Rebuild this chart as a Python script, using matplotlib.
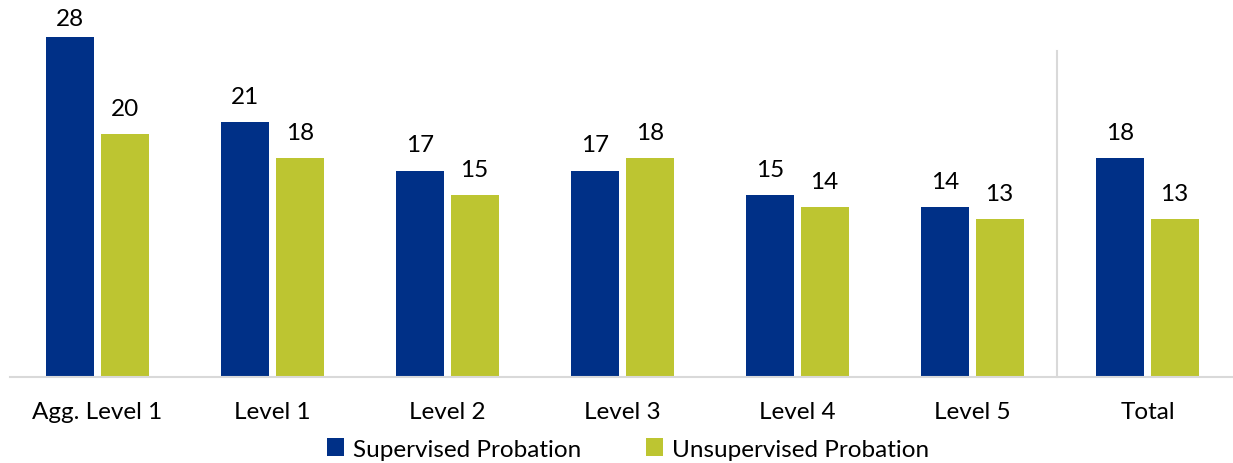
import matplotlib
matplotlib.use("Agg")
import matplotlib.pyplot as plt
import numpy as np

categories = ["Agg. Level 1", "Level 1", "Level 2", "Level 3", "Level 4", "Level 5", "Total"]
supervised = [28, 21, 17, 17, 15, 14, 18]
unsupervised = [20, 18, 15, 18, 14, 13, 13]
series_names = ["Supervised Probation", "Unsupervised Probation"]
colors = ["#003087", "#BDC531"]

plt.rcParams['font.family'] = ['Lato', 'DejaVu Sans']

W, H = 1233, 464
fig = plt.figure(figsize=(W/100, H/100), dpi=100)
ax = fig.add_axes([10/W, (H-378)/H, 1225/W, 378/H])

x = np.arange(len(categories))
bw = 0.275
off = 0.155
b1 = ax.bar(x - off, supervised, bw, color=colors[0], label=series_names[0])
b2 = ax.bar(x + off, unsupervised, bw, color=colors[1], label=series_names[1])

ax.set_xlim(-0.5, len(categories) - 0.5)
ax.set_ylim(0, 378/12.143)

fs = 17.5
for bars, vals in ((b1, supervised), (b2, unsupervised)):
    for rect, v in zip(bars, vals):
        # keep label inside figure top like the original
        top_px = ax.transData.transform((0, v))[1]  # from bottom
        space_pt = (H - 12 - 18 - top_px) * 0.72
        offset = min(11, space_pt)
        ax.annotate(f"{v}", (rect.get_x() + rect.get_width()/2, v),
                    xytext=(0, offset), textcoords="offset points",
                    ha="center", va="bottom", fontsize=fs, color="#000000")

ax.set_xticks(x)
ax.set_xticklabels(categories, fontsize=fs)
ax.tick_params(axis='x', length=0, pad=17)
ax.set_yticks([])
for s in ["top", "right", "left"]:
    ax.spines[s].set_visible(False)
ax.spines["bottom"].set_color("#D9D9D9")
ax.spines["bottom"].set_linewidth(1.5)

# separator line before Total
ax.plot([len(categories) - 1.5 - 0.02]*2, [0, 26.85], color="#D9D9D9", lw=1.5, clip_on=False)

fig.legend(handles=[b1, b2], labels=series_names, loc="center",
           bbox_to_anchor=(628/W, 1 - 450/H), ncol=2, frameon=False,
           fontsize=fs, handlelength=0.7, handleheight=0.7,
           handletextpad=0.35, columnspacing=2.7)

fig.savefig("out.png", dpi=100)
